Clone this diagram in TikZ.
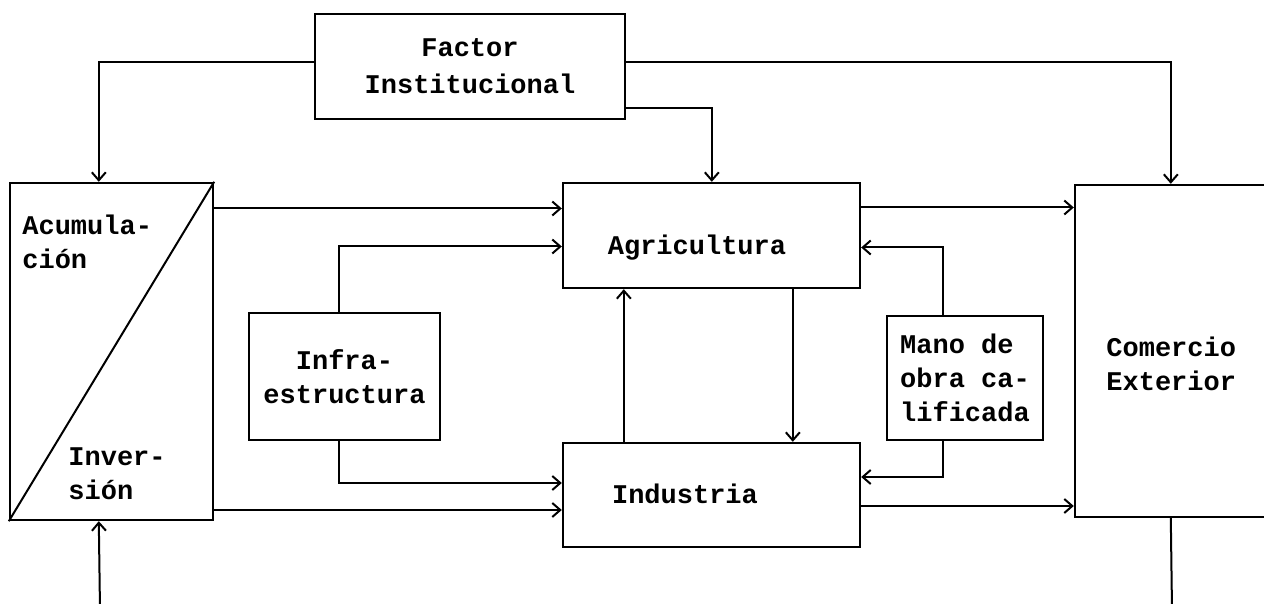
\documentclass[tikz,border=0pt]{standalone}
\usepackage{fontspec}
\newfontfamily\maquina{Liberation Mono}
\usetikzlibrary{arrows.meta, calc}
\tikzstyle{bloque} = [rectangle, draw, line width=1.2pt, inner sep=0pt,
                      font={\maquina\bfseries\fontsize{13.5}{17}\selectfont}]
\tikzstyle{texto} = [inner sep=0pt, align=left, font={\maquina\bfseries\fontsize{13.5}{17}\selectfont}]
\tikzstyle{linea} = [line width=1pt]
\tikzstyle{flecha} = [-{Straight Barb[length=4pt, width=7pt]}, line width=1pt]

\begin{document}
\begin{tikzpicture}[x=0.5pt, y=-0.5pt]
    \useasboundingbox (0,0) rectangle (1264,604);
    \clip (0,0) rectangle (1264,604);
    % Bloques
    \node[bloque, minimum width=155pt, minimum height=52.5pt, align=center,
          font={\maquina\bfseries\fontsize{13.5}{18.5}\selectfont}] (factor) at (470,66.5) {Factor\\Institucional};
    \node[bloque, minimum width=101.5pt, minimum height=168.5pt] (acum) at (111.5,351.5) {};
    \node[bloque, minimum width=148.5pt, minimum height=52.5pt] (agri) at (711.5,235.5) {};
    \node[bloque, minimum width=148.5pt, minimum height=52pt] (ind) at (711.5,495) {};
    \node[bloque, minimum width=95.5pt, minimum height=63.5pt, align=center] (infra) at (344.5,376.5) {Infra-\\estructura};
    \node[bloque, minimum width=78pt, minimum height=62pt, align=left] (mano) at (965,378) {Mano de\\obra ca-\\lificada};
    \node[bloque, minimum width=107.5pt, minimum height=166pt] (com) at (1182.5,351) {};
    \draw[linea] (acum.south west) -- (acum.north east);

    % Textos
    \node[texto] (agritxt) at (697,248) {Agricultura};
    \node[texto] (indtxt) at (685,494) {Industria};
    \node[texto, anchor=west] (acumtxt) at (22,242) {Acumula-\\ción};
    \node[texto, anchor=west] (invtxt) at (68,474) {Inver-\\sión};
    \node[texto, anchor=west] (comtxt) at (1106,364) {Comercio\\Exterior};

    % Puntos auxiliares
    \coordinate (a1) at ($(agri.west)+(0,-27)$);
    \coordinate (a2) at ($(ind.west)+(0,15)$);
    \coordinate (a3) at ($(agri.east)+(0,-28)$);
    \coordinate (a4) at ($(ind.east)+(0,11)$);
    \coordinate (entrada) at (100,610);
    \coordinate (salida) at (1172,610);

    % Conexiones
    \draw[flecha] ([yshift=2pt]factor.west) -| ($(acum.north west)+(90,0)$);
    \draw[flecha] ([yshift=2pt]factor.east) -| ($(com.north west)+(97,0)$);
    \draw[flecha] ([yshift=-21pt]factor.east) -| ($(agri.north west)+(150,0)$);
    \draw[flecha] (a1 -| acum.east) -- (a1);
    \draw[flecha] (a2 -| acum.east) -- (a2);
    \draw[flecha] ($(infra.north)+(-6,0)$) |- ($(agri.west)+(0,11)$);
    \draw[flecha] ($(infra.south)+(-6,0)$) |- ($(ind.west)+(0,-12)$);
    \draw[flecha] ($(ind.north west)+(62,0)$) -- ($(agri.south west)+(62,0)$);
    \draw[flecha] ($(agri.south west)+(231,0)$) -- ($(ind.north west)+(231,0)$);
    \draw[flecha] ($(mano.north)+(-22,0)$) |- ($(agri.east)+(0,12)$);
    \draw[flecha] ($(mano.south)+(-22,0)$) |- ($(ind.east)+(0,-18)$);
    \draw[flecha] (a3) -- (a3 -| com.west);
    \draw[flecha] (a4) -- (a4 -| com.west);
    \draw[linea] ($(com.south west)+(97,0)$) -- (salida);
    \draw[flecha] (entrada) -- ($(acum.south west)+(90,0)$);
\end{tikzpicture}
\end{document}
